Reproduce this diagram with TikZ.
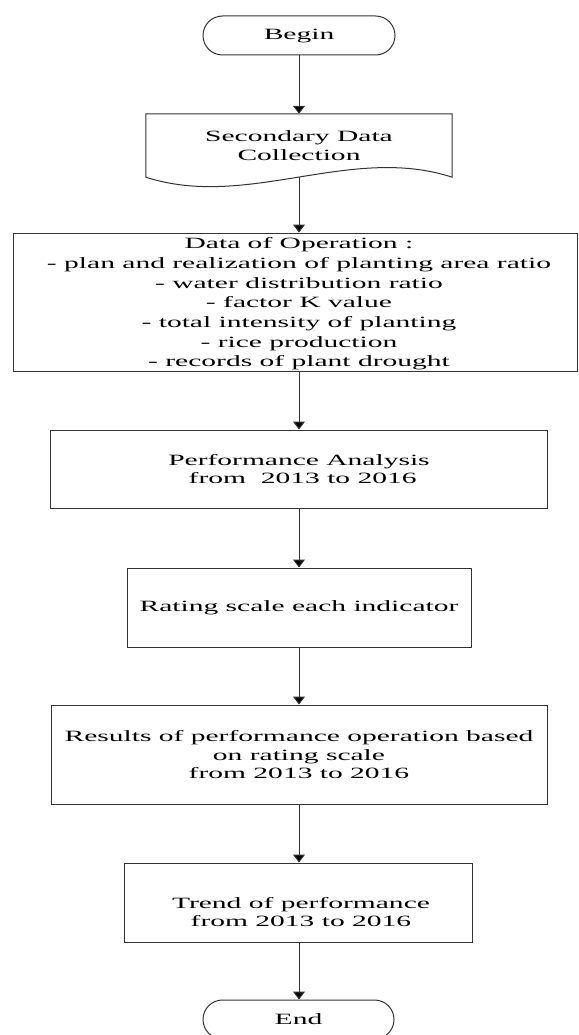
\documentclass[tikz,border=0pt]{standalone}
\usepackage{fontspec}
\setmainfont{Liberation Serif}[FakeStretch=1.88]
\usetikzlibrary{arrows.meta,shapes.misc}
\begin{document}
\begin{tikzpicture}[x=1pt,y=-1pt,
  every node/.style={font=\fontsize{15.7}{18.5}\selectfont, align=center, inner sep=0pt},
  line/.style={draw=black!80, line width=1pt},
  box/.style={line, rectangle},
  term/.style={line, rounded rectangle, minimum width=192pt, minimum height=39pt},
  arr/.style={line, -{Triangle[width=12pt,length=8pt,fill=black]}}]
\useasboundingbox (0,0) rectangle (578,1035);
\clip (0,0) rectangle (578,1035);

\node[term] (begin) at (299,35.5) {Begin};

\node[minimum width=306pt, minimum height=63pt] (doc) at (299,145.5) {Secondary Data\\Collection};
\draw[line] (doc.north west) -- (doc.north east) -- (doc.south east)
  .. controls (350,144) and (248,210) .. (doc.south west) -- cycle;
\coordinate (docb) at (299,177);

\node[box, minimum width=564pt, minimum height=138pt] (data) at (295,302) {};
\node[font=\fontsize{15.7}{19.7}\selectfont] (datat) at (299,304) {Data of Operation :\\
- plan and realization of planting area ratio\\
- water distribution ratio\\
- factor K value\\
- total intensity of planting\\
- rice production\\
- records of plant drought};

\node[box, minimum width=497pt, minimum height=78pt] (perf) at (298.5,469) {};
\node (perft) at (299,469) {Performance Analysis\\~from~ 2013 to 2016};

\node[box, minimum width=344pt, minimum height=79pt] (rate) at (299,607.5) {Rating scale each indicator};

\node[box, minimum width=496pt, minimum height=99pt] (res) at (299,754.5) {};
\node (rest) at (299,755) {Results of performance operation based\\on rating scale\\from 2013 to 2016};

\node[box, minimum width=348pt, minimum height=79pt] (trend) at (298,902.5) {};
\node (trendt) at (301,912) {Trend of performance\\from 2013 to 2016};

\node[term, minimum width=191pt] (end) at (298.5,1019.5) {End};

\draw[arr] (begin.south) -- (begin.south |- doc.north);
\draw[arr] (docb) -- (docb |- data.north);
\draw[arr] (docb |- data.south) -- (docb |- perf.north);
\draw[arr] (docb |- perf.south) -- (docb |- rate.north);
\draw[arr] (rate.south) -- (rate.south |- res.north);
\draw[arr] (docb |- res.south) -- (docb |- trend.north);
\draw[arr] (docb |- trend.south) -- (docb |- end.north);
\end{tikzpicture}
\end{document}
